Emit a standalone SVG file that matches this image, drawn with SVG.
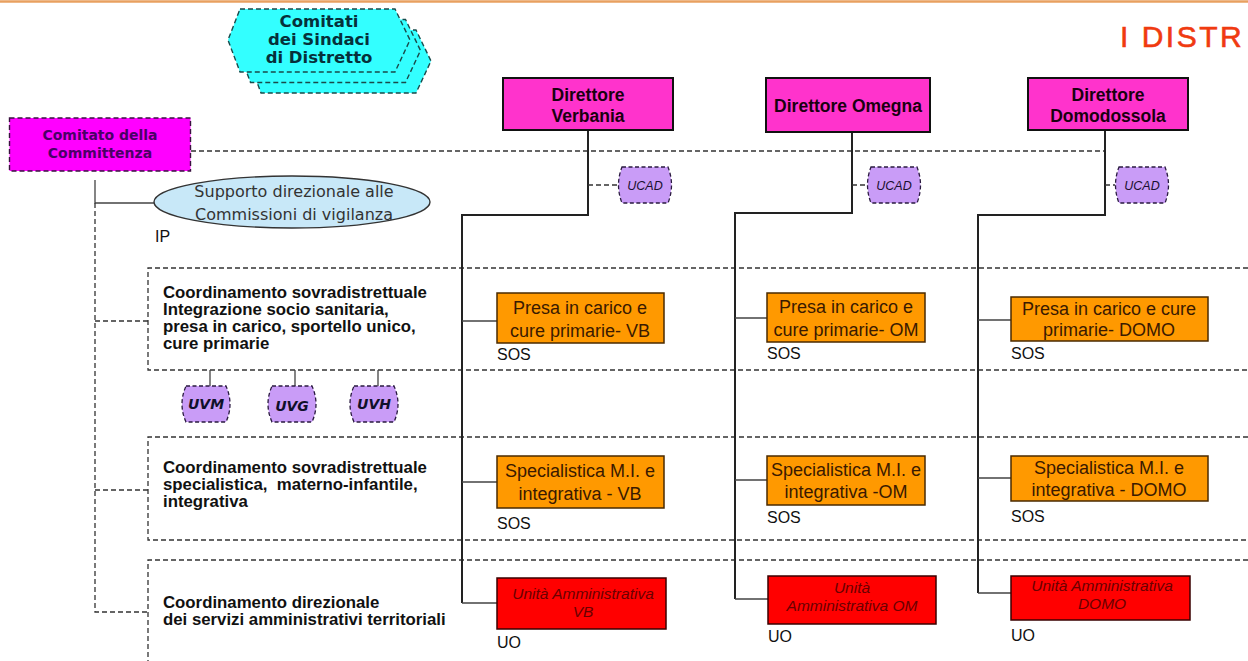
<svg xmlns="http://www.w3.org/2000/svg" width="1248" height="661" viewBox="0 0 1248 661">
  <style>
    .dash { fill: none; stroke: #333; stroke-width: 1.3; stroke-dasharray: 5 3; }
    .solid { fill: none; stroke: #222; stroke-width: 2; }
    .thin { fill: none; stroke: #444; stroke-width: 1.3; }
    .dir rect { fill: #ff33cc; stroke: #111; stroke-width: 2; }
    .dir text { font-family: "Liberation Sans", Arial, sans-serif; font-weight: bold; font-size: 17.5px; fill: #1a0010; text-anchor: middle; }
    .sos rect { fill: #ff9900; stroke: #4a2a00; stroke-width: 1.5; }
    .sos text { font-family: "Liberation Sans", Arial, sans-serif; font-size: 18px; fill: #3a1a00; text-anchor: middle; }
    .uo rect { fill: #ff0000; stroke: #3a0000; stroke-width: 1.5; }
    .uo text { font-family: "Liberation Sans", Arial, sans-serif; font-style: italic; font-size: 15.5px; fill: #6a0000; text-anchor: middle; }
    .lbl { font-family: "Liberation Sans", Arial, sans-serif; font-size: 16px; fill: #111; }
    .band { font-family: "Liberation Sans", Arial, sans-serif; font-weight: bold; font-size: 16.8px; fill: #111; }
    .lav { fill: #c99cf7; stroke: #2a1a40; stroke-width: 1.3; stroke-dasharray: 4 2.5; }
    .uv { font-family: "DejaVu Sans", Verdana, sans-serif; font-weight: bold; font-style: italic; font-size: 14px; fill: #10102a; text-anchor: middle; }
    .ucad { font-family: "Liberation Sans", Arial, sans-serif; font-style: italic; font-size: 12.5px; fill: #1a1030; text-anchor: middle; }
    .hex { fill: #33ffff; stroke: #1a4a4a; stroke-width: 1.4; stroke-dasharray: 5 3; }
  </style>
  <defs>
    <path id="hexShape" d="M240,9 H395 L410,40 L395,72 H240 L228,40 Z"/>
    <path id="ucadShape" d="M5,0 H51 Q58,18 51,36 H5 Q-2,18 5,0 Z"/>
    <path id="uvShape" d="M6,0 H46 Q54,18 46,36 H6 Q-2,18 6,0 Z"/>
  </defs>

  <rect x="0" y="0" width="1248" height="661" fill="#ffffff"/>
  <!-- header rule and title -->
  <line x1="0" y1="1.5" x2="1248" y2="1.5" stroke="#e8a060" stroke-width="2.5"/>
  <text x="1120" y="47" font-family="'Liberation Sans', Arial, sans-serif" font-size="30" letter-spacing="2.5" stroke="#f03a10" stroke-width="0.6" fill="#f03a10">I DISTR</text>

  <!-- dashed bands -->
  <g id="bands">
    <path class="dash" d="M1248,268 H148 V370 H1248"/>
    <path class="dash" d="M1248,437 H148 V540 H1248"/>
    <path class="dash" d="M1248,560 H148 V661"/>
  </g>

  <!-- connectors -->
  <g id="connectors">
    <!-- committee to directors -->
    <path class="dash" d="M191,151 H1105"/>
    <path class="thin" d="M95,180 V203 H155"/>
    <path class="dash" d="M95,203 V612 H148 M95,321 H148 M95,490 H148"/>
    <!-- Verbania branch -->
    <path class="solid" d="M588,130 V215 H462 V603"/>
    <path class="dash" d="M588,185 H617"/>
    <path class="thin" d="M462,321 H497 M462,482 H497 M462,603 H497"/>
    <!-- Omegna branch -->
    <path class="solid" d="M852,132 V213 H735 V599"/>
    <path class="dash" d="M852,185 H866"/>
    <path class="thin" d="M735,318 H767 M735,480 H767 M735,599 H768"/>
    <!-- Domodossola branch -->
    <path class="solid" d="M1105,130 V215 H978 V593" stroke-width="2.5"/>
    <path class="dash" d="M1105,185 H1115"/>
    <path class="thin" d="M978,320 H1011 M978,478 H1011 M978,593 H1011"/>
    <!-- evaluation units -->
    <path class="thin" d="M210,370 V386 M295,370 V386 M378,370 V386"/>
  </g>

  <!-- mayors' committees (stacked) -->
  <g id="comitati-sindaci">
    <use href="#hexShape" class="hex" transform="translate(21,21)"/>
    <use href="#hexShape" class="hex" transform="translate(10.5,10.5)"/>
    <use href="#hexShape" class="hex"/>
    <g font-family="'DejaVu Sans', Verdana, sans-serif" font-weight="bold" font-size="16.5" fill="#06303a" text-anchor="middle">
      <text x="319" y="27">Comitati</text>
      <text x="319" y="45">dei Sindaci</text>
      <text x="319" y="63">di Distretto</text>
    </g>
  </g>

  <g id="comitato-committenza">
    <rect x="9.5" y="118" width="181" height="53" fill="#ff00ff" stroke="#3a1040" stroke-width="1.4" stroke-dasharray="5 3"/>
    <g font-family="'DejaVu Sans', Verdana, sans-serif" font-weight="bold" font-size="14" fill="#4a0066" text-anchor="middle">
      <text x="100" y="140">Comitato della</text>
      <text x="100" y="158">Committenza</text>
    </g>
  </g>

  <g id="supporto">
    <ellipse cx="292" cy="202" rx="138" ry="26" fill="#c8e8f8" stroke="#333" stroke-width="1.4"/>
    <g font-family="'DejaVu Sans', Verdana, sans-serif" font-size="16" fill="#333" text-anchor="middle">
      <text x="294" y="197">Supporto direzionale alle</text>
      <text x="294" y="220">Commissioni di vigilanza</text>
    </g>
    <text class="lbl" x="155" y="242" font-size="17">IP</text>
  </g>

  <!-- directors -->
  <g id="dir-verbania" class="dir">
    <rect x="503" y="78" width="170" height="52"/>
    <text x="588" y="101">Direttore</text>
    <text x="588" y="122">Verbania</text>
  </g>
  <g id="dir-omegna" class="dir">
    <rect x="766" y="78" width="164" height="54"/>
    <text x="848" y="112">Direttore Omegna</text>
  </g>
  <g id="dir-domodossola" class="dir">
    <rect x="1028" y="78" width="160" height="52"/>
    <text x="1108" y="101">Direttore</text>
    <text x="1108" y="122">Domodossola</text>
  </g>

  <!-- UCAD units -->
  <g id="ucad-vb">
    <use href="#ucadShape" class="lav" transform="translate(617,167)"/>
    <text class="ucad" x="645" y="190">UCAD</text>
  </g>
  <g id="ucad-om">
    <use href="#ucadShape" class="lav" transform="translate(866,167)"/>
    <text class="ucad" x="894" y="190">UCAD</text>
  </g>
  <g id="ucad-domo">
    <use href="#ucadShape" class="lav" transform="translate(1114,167)"/>
    <text class="ucad" x="1142" y="190">UCAD</text>
  </g>

  <!-- band captions -->
  <g id="band-integrazione">
    <text class="band" x="163" y="298">Coordinamento sovradistrettuale</text>
    <text class="band" x="163" y="315">Integrazione socio sanitaria,</text>
    <text class="band" x="163" y="332">presa in carico, sportello unico,</text>
    <text class="band" x="163" y="349">cure primarie</text>
  </g>
  <g id="band-specialistica">
    <text class="band" x="163" y="473">Coordinamento sovradistrettuale</text>
    <text class="band" x="163" y="490" xml:space="preserve">specialistica,  materno-infantile,</text>
    <text class="band" x="163" y="507">integrativa</text>
  </g>
  <g id="band-amministrativi">
    <text class="band" x="163" y="608">Coordinamento direzionale</text>
    <text class="band" x="163" y="625">dei servizi amministrativi territoriali</text>
  </g>

  <!-- evaluation units -->
  <g id="uvm">
    <use href="#uvShape" class="lav" transform="translate(180,386)"/>
    <text class="uv" x="206" y="409">UVM</text>
  </g>
  <g id="uvg">
    <use href="#uvShape" class="lav" transform="translate(266,386)"/>
    <text class="uv" x="292" y="411">UVG</text>
  </g>
  <g id="uvh">
    <use href="#uvShape" class="lav" transform="translate(348,386)"/>
    <text class="uv" x="374" y="409">UVH</text>
  </g>

  <!-- row 1: primary care -->
  <g id="sos-pc-vb" class="sos">
    <rect x="497" y="293" width="167" height="50"/>
    <text x="580" y="314">Presa in carico e</text>
    <text x="580" y="337">cure primarie- VB</text>
  </g>
  <g id="sos-pc-om" class="sos">
    <rect x="767" y="293" width="158" height="49"/>
    <text x="846" y="313">Presa in carico e</text>
    <text x="846" y="336">cure primarie- OM</text>
  </g>
  <g id="sos-pc-domo" class="sos">
    <rect x="1011" y="297" width="197" height="44"/>
    <text x="1109" y="315">Presa in carico e cure</text>
    <text x="1109" y="336">primarie- DOMO</text>
  </g>
  <text class="lbl" x="497" y="360">SOS</text>
  <text class="lbl" x="767" y="359">SOS</text>
  <text class="lbl" x="1011" y="359">SOS</text>

  <!-- row 2: specialist care -->
  <g id="sos-sp-vb" class="sos">
    <rect x="497" y="456" width="167" height="52"/>
    <text x="580" y="477">Specialistica M.I. e</text>
    <text x="580" y="500">integrativa - VB</text>
  </g>
  <g id="sos-sp-om" class="sos">
    <rect x="767" y="456" width="158" height="49"/>
    <text x="846" y="476">Specialistica M.I. e</text>
    <text x="846" y="498">integrativa -OM</text>
  </g>
  <g id="sos-sp-domo" class="sos">
    <rect x="1011" y="456" width="197" height="45"/>
    <text x="1109" y="474">Specialistica M.I. e</text>
    <text x="1109" y="496">integrativa - DOMO</text>
  </g>
  <text class="lbl" x="497" y="529">SOS</text>
  <text class="lbl" x="767" y="523">SOS</text>
  <text class="lbl" x="1011" y="522">SOS</text>

  <!-- row 3: administrative units -->
  <g id="uo-vb" class="uo">
    <rect x="497" y="578" width="169" height="51"/>
    <text x="583" y="599">Unità Amministrativa</text>
    <text x="583" y="617">VB</text>
  </g>
  <g id="uo-om" class="uo">
    <rect x="768" y="576" width="168" height="48"/>
    <text x="852" y="593">Unità</text>
    <text x="852" y="611">Amministrativa OM</text>
  </g>
  <g id="uo-domo" class="uo">
    <rect x="1011" y="576" width="179" height="44"/>
    <text x="1102" y="591">Unità Amministrativa</text>
    <text x="1102" y="609">DOMO</text>
  </g>
  <text class="lbl" x="497" y="648">UO</text>
  <text class="lbl" x="768" y="642">UO</text>
  <text class="lbl" x="1011" y="641">UO</text>
</svg>
